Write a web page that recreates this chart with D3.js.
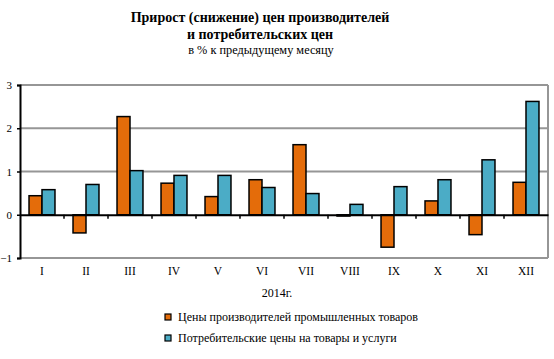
<!DOCTYPE html>
<html><head><meta charset="utf-8">
<script src="https://cdn.jsdelivr.net/npm/d3@7"></script>
<style>body{margin:0;background:#fff}svg{display:block}text{font-family:"Liberation Serif","Times New Roman",serif}</style>
</head><body><div id="c"></div>
<script>
const months = ["I","II","III","IV","V","VI","VII","VIII","IX","X","XI","XII"];
const producer = [0.44,-0.42,2.27,0.73,0.42,0.81,1.62,-0.03,-0.75,0.32,-0.46,0.75];
const consumer = [0.58,0.70,1.02,0.91,0.91,0.63,0.49,0.24,0.65,0.81,1.27,2.62];
const yTicks = [-1,0,1,2,3];
const seriesNames = ["Цены производителей  промышленных товаров","Потребительские цены на товары и услуги"];
const colors = ["#E46C0A","#4BACC6"];

const W=554,H=359;
const svg=d3.select("#c").append("svg").attr("width",W).attr("height",H);
const L=20,R=548,T=85,B=258;
const x=d3.scaleBand().domain(months).range([L,R]).paddingInner(0.41).paddingOuter(0.205);
const xs=d3.scaleBand().domain([0,1]).range([0,x.bandwidth()]);
const y=d3.scaleLinear().domain([-1,3]).range([B,T]);

// gridlines
svg.append("g").selectAll("line").data(yTicks.filter(d=>d!==0)).join("line")
 .attr("x1",L).attr("x2",R).attr("y1",d=>y(d)).attr("y2",d=>y(d))
 .attr("stroke","#969696").attr("stroke-width",2);
svg.append("line").attr("x1",R).attr("x2",R).attr("y1",T).attr("y2",B).attr("stroke","#969696").attr("stroke-width",2);

// bars
const data=months.map((m,i)=>({m,vals:[producer[i],consumer[i]]}));
const g=svg.append("g").selectAll("g").data(data).join("g").attr("transform",d=>`translate(${x(d.m)},0)`);
g.selectAll("rect").data(d=>d.vals.map((v,k)=>({v,k}))).join("rect")
 .attr("x",d=>xs(d.k)).attr("width",xs.bandwidth())
 .attr("y",d=>y(Math.max(0,d.v))).attr("height",d=>Math.abs(y(d.v)-y(0)))
 .attr("fill",d=>colors[d.k]).attr("stroke","#000").attr("stroke-width",1.5);

// y axis
const ya=svg.append("g").attr("transform",`translate(${L},0)`)
 .call(d3.axisLeft(y).tickValues(yTicks).tickSize(3).tickPadding(5).tickFormat(d3.format("d")));
ya.select(".domain").attr("stroke","#000").attr("stroke-width",2);
ya.selectAll(".tick line").attr("stroke","#000").attr("stroke-width",1.5);
ya.selectAll("text").attr("font-size",11).attr("fill","#000").style("font-family","Liberation Serif");

// zero axis with ticks between categories
const xa=svg.append("g").attr("transform",`translate(0,${y(0)})`)
 .call(d3.axisBottom(x).tickSize(0).tickFormat(""));
xa.select(".domain").attr("stroke","#000").attr("stroke-width",2);
const sepTicks=d3.range(1,12).map(i=>L+(R-L)/12*i);
svg.append("g").selectAll("line").data(sepTicks).join("line")
 .attr("x1",d=>d).attr("x2",d=>d).attr("y1",y(0)).attr("y2",y(0)+4)
 .attr("stroke","#000").attr("stroke-width",1.5);

// category labels
svg.append("g").selectAll("text").data(months).join("text")
 .attr("x",d=>x(d)+x.bandwidth()/2).attr("y",275).attr("text-anchor","middle")
 .attr("font-size",11.5).text(d=>d);

svg.append("text").attr("x",277).attr("y",297).attr("text-anchor","middle").attr("font-size",12).text("2014г.");

// title
svg.append("text").attr("x",260).attr("y",22).attr("text-anchor","middle").attr("font-size",14).attr("font-weight","bold").text("Прирост (снижение) цен производителей");
svg.append("text").attr("x",260).attr("y",39).attr("text-anchor","middle").attr("font-size",14).attr("font-weight","bold").text("и потребительских цен");
svg.append("text").attr("x",261).attr("y",54).attr("text-anchor","middle").attr("font-size",12.3).text("в % к предыдущему месяцу");

// legend
const lg=svg.append("g").selectAll("g").data(seriesNames).join("g")
 .attr("transform",(d,i)=>`translate(165,${317+i*21})`);
lg.append("rect").attr("x",0).attr("y",-3).attr("width",6).attr("height",6)
 .attr("fill",(d,i)=>colors[i]).attr("stroke","#000").attr("stroke-width",1.2);
lg.append("text").attr("x",13).attr("y",4).attr("font-size",12).text(d=>d);
</script></body></html>
